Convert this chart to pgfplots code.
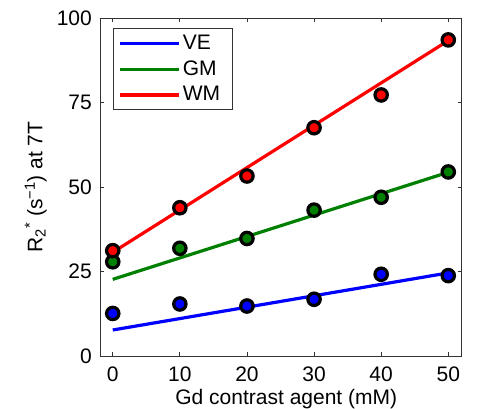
\documentclass[border=0pt]{standalone}
\usepackage{pgfplots}
\pgfplotsset{compat=1.18}
\usepackage{fontspec}
\setmainfont{Liberation Sans}
\definecolor{mgreen}{rgb}{0,0.5,0}
\definecolor{frame}{gray}{0.2}
\newcommand{\fs}{\fontsize{21}{25}\selectfont}
\begin{document}
\fs
\begin{tikzpicture}
\begin{axis}[
  scale only axis,
  width=361.7pt, height=337.7pt,
  xmin=-1.9, xmax=52, ymin=0, ymax=100,
  xtick={0,10,20,30,40,50},
  ytick={0,25,50,75,100},
  tick align=inside,
  major tick length=4pt,
  axis line style={draw=frame, line width=0.8pt},
  every tick/.style={draw=frame, line width=0.8pt},
  /pgf/number format/assume math mode=true,
  tick label style={font=\fs},
  xticklabel style={yshift=-4pt},
  yticklabel style={xshift=-1pt},
  xlabel={Gd contrast agent (mM)},
  xlabel style={at={(axis description cs:0.515,-0.097)}, anchor=north, inner sep=0pt, font=\fs},
  ylabel={R\textsubscript{2}\textsuperscript{*} (s\textsuperscript{−1}) at 7T},
  ylabel style={at={(axis description cs:-0.1465,0.5)}, anchor=south, inner sep=0pt, font=\fs},
  legend cell align=left,
  legend style={at={(axis description cs:0.0368,0.970)}, anchor=north west,
    draw=frame, line width=0.8pt, font=\fs,
    inner xsep=5pt, inner ysep=4pt, row sep=4pt},
  legend image code/.code={\draw[#1, line width=3.2pt] (0pt,0pt) -- (56pt,0pt); \path (0pt,0pt) -- (59pt,0pt);},
]
\addplot[blue, line width=3.2pt] coordinates {(0,7.7) (50,24.6)};
\addlegendentry{VE}
\addplot[mgreen, line width=3.2pt] coordinates {(0,22.7) (50,54.4)};
\addlegendentry{GM}
\addplot[red, line width=3.2pt] coordinates {(0,30.7) (50,93.4)};
\addlegendentry{WM\hspace*{5pt}}
\addplot[only marks, mark=*, mark size=6.2pt, mark options={draw=black, fill=blue, line width=3.2pt}, forget plot]
  coordinates {(0,12.6) (10,15.4) (20,14.8) (30,16.8) (40,24.2) (50,23.8)};
\addplot[only marks, mark=*, mark size=6.2pt, mark options={draw=black, fill=mgreen, line width=3.2pt}, forget plot]
  coordinates {(0,27.9) (10,31.9) (20,34.8) (30,43.2) (40,47.0) (50,54.5)};
\addplot[only marks, mark=*, mark size=6.2pt, mark options={draw=black, fill=red, line width=3.2pt}, forget plot]
  coordinates {(0,31.2) (10,43.9) (20,53.3) (30,67.6) (40,77.3) (50,93.6)};
\end{axis}
\path (current axis.south west) +(-100pt,-53pt) coordinate (bbA);
\path (current axis.south west) +(377pt,356pt) coordinate (bbB);
\path (bbA) rectangle (bbB);
\end{tikzpicture}
\end{document}
